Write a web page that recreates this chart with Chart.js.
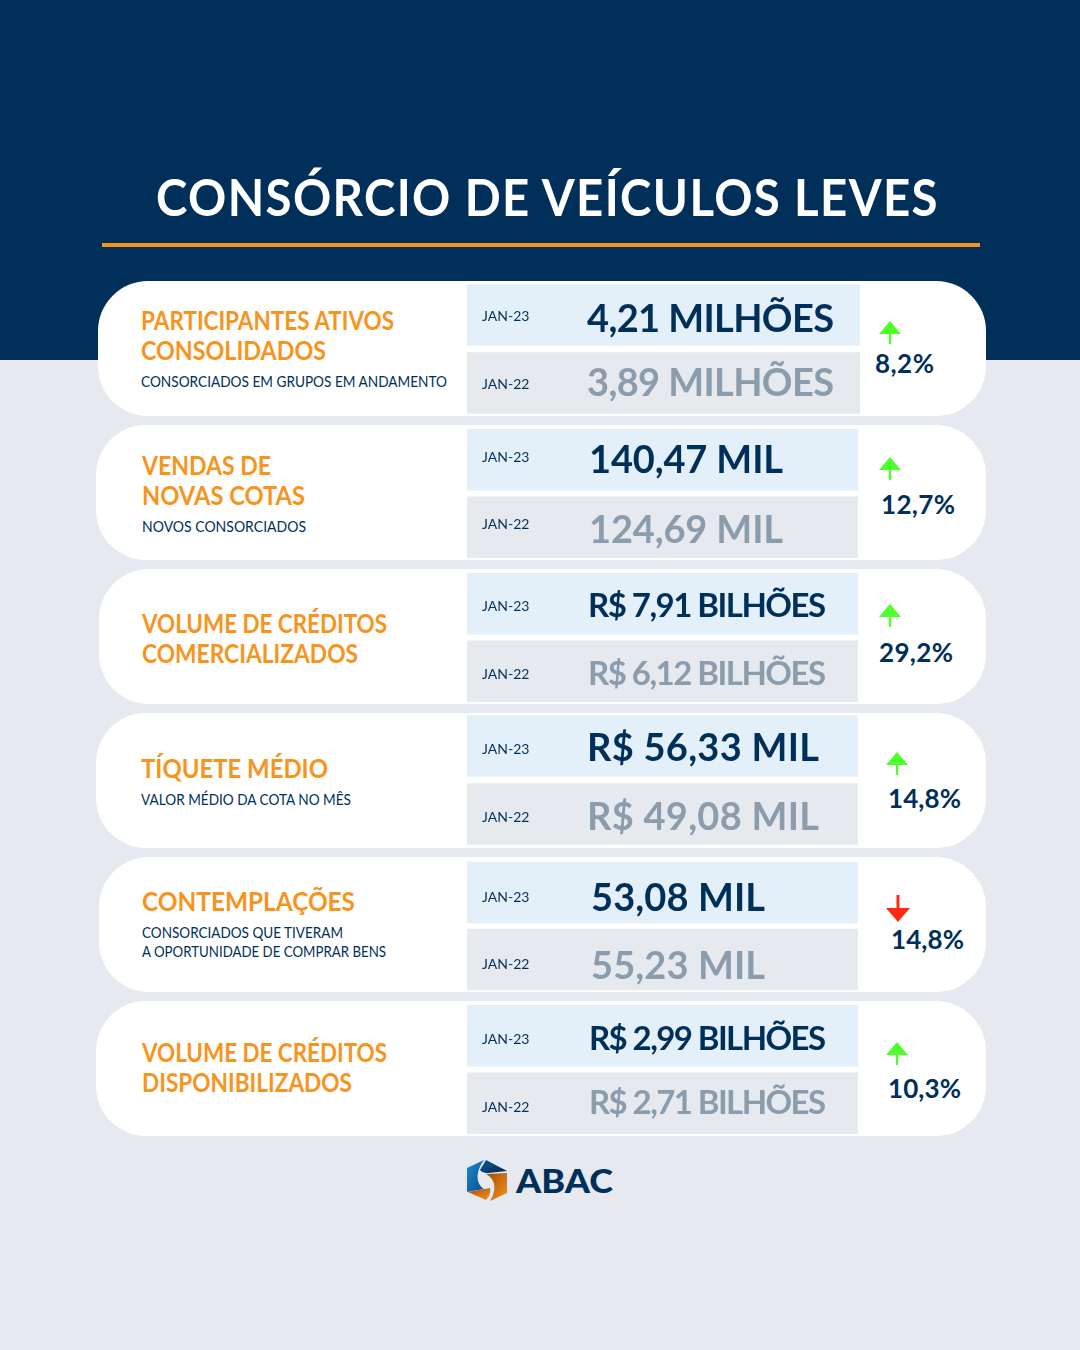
<!DOCTYPE html>
<html lang="pt-BR">
<head>
<meta charset="utf-8">
<title>Consórcio de veículos leves</title>
<script src="https://cdn.jsdelivr.net/npm/chart.js@4"></script>
<style>
html, body { margin: 0; padding: 0; }
body { width: 1080px; height: 1350px; position: relative; overflow: hidden; background: #e6e9ef; font-family: Lato, sans-serif; }
#top { position: absolute; left: 0; top: 0; width: 1080px; height: 360px; background: #00305a; }
#rule { position: absolute; left: 102px; top: 243px; width: 878px; height: 4px; background: #f7941d; }
.card { position: absolute; background: #fff; border-radius: 50px; }
canvas { position: absolute; display: block; }
.txt { position: absolute; white-space: nowrap; line-height: 1; transform-origin: left center; }
svg { position: absolute; left: 0; top: 0; }
</style>
</head>
<body>
<div id="top"></div>
<div id="rule"></div>
<svg id="marks" width="1080" height="1350"></svg>
<script>
// ---------------- DATA ----------------
const chartTitle = "CONSÓRCIO DE VEÍCULOS LEVES";
const periods = ["JAN-23", "JAN-22"];
const currentValues = ["4,21 MILHÕES", "140,47 MIL", "R$ 7,91 BILHÕES", "R$ 56,33 MIL", "53,08 MIL", "R$ 2,99 BILHÕES"];
const previousValues = ["3,89 MILHÕES", "124,69 MIL", "R$ 6,12 BILHÕES", "R$ 49,08 MIL", "55,23 MIL", "R$ 2,71 BILHÕES"];
const changeLabels = ["8,2%", "12,7%", "29,2%", "14,8%", "14,8%", "10,3%"];
const changeDirections = ["up", "up", "up", "up", "down", "up"];
const headings = [
    ["PARTICIPANTES ATIVOS", "CONSOLIDADOS"],
    ["VENDAS DE", "NOVAS COTAS"],
    ["VOLUME DE CRÉDITOS", "COMERCIALIZADOS"],
    ["TÍQUETE MÉDIO"],
    ["CONTEMPLAÇÕES"],
    ["VOLUME DE CRÉDITOS", "DISPONIBILIZADOS"]
];
const subheadings = [
    ["CONSORCIADOS EM GRUPOS EM ANDAMENTO"],
    ["NOVOS CONSORCIADOS"],
    [],
    ["VALOR MÉDIO DA COTA NO MÊS"],
    ["CONSORCIADOS QUE TIVERAM", "A OPORTUNIDADE DE COMPRAR BENS"],
    []
];

// ---------------- LAYOUT ----------------
const NAVY = "#00305a", ORANGE = "#f7941d", GREY = "#8b9cad";
const cardBoxes = [[98, 281, 888, 135], [96, 425, 890, 135], [99, 569, 887, 135], [96, 713, 890, 135], [99, 857, 887, 135], [96, 1001, 890, 135]];
// canvas boxes: taller than the two cells, so the band centres match the row spacing
const cellBoxes = [[467, 281, 393, 136], [467, 426, 391, 135], [467, 570, 391, 135], [467, 712, 391, 136], [467, 859, 391, 134], [467, 1002, 391, 135]];
const periodShift = [1, -2.5, 3, 3.5, 4.5, 4];
// value label: left x, font size, target width, y shift of each row
const valueStyle = [
    [587, 38, 247, [3, -1]], [589, 38, 194, [0, 2]], [588, 33, 238, [1, 2]],
    [587, 38, 232, [1, 2]], [591, 38, 174, [4.5, 5.5]], [589, 33, 237, [2, -1]]
];
// heading lines: x, centre y, width
const headingPos = [
    [[141, 321, 253], [141, 351, 185]], [[142, 466, 129], [142, 496, 163]], [[142, 624, 245], [142, 654, 216]],
    [[141, 769, 187]], [[142, 902, 213]], [[142, 1053, 245], [142, 1083, 210]]
];
const subPos = [
    [[141, 382, 306]], [[142, 527, 164]], [], [[141, 800, 210]], [[142, 933, 201], [142, 952, 244]], []
];
// change label: x, centre y, width; arrow: centre x, top y
const changePos = [[875, 364, 59], [881, 505, 74], [879, 653, 74], [888, 799, 73], [891, 940, 73], [888, 1089, 73]];
const arrowPos = [[890, 321], [890, 457], [890, 604], [897, 752], [898, 895], [897, 1042]];

// adds a text line and fits it to its width in the reference,
// by squeezing the glyphs (Futura is narrower than Lato) or by letter spacing
function addText(text, x, cy, size, width, color, weight, fit, tracking) {
    const el = document.createElement("div");
    el.className = "txt";
    el.textContent = text;
    el.style.cssText = `left:${x}px;top:${cy - size * 0.527}px;font-size:${size}px;color:${color};font-weight:${weight};letter-spacing:${tracking || 0}px`;
    document.body.appendChild(el);
    const natural = el.getBoundingClientRect().width;
    if (fit === "space") {
        el.style.letterSpacing = ((width - natural) / (text.length - 1)).toFixed(3) + "px";
    } else {
        el.style.transform = `scaleX(${(width / natural).toFixed(4)})`;
    }
}

// value text sits on the bars, so it follows the bar elements
const valueLabels = {
    id: "valueLabels",
    afterDatasetsDraw(chart, args, opts) {
        const ctx = chart.ctx;
        chart.getDatasetMeta(0).data.forEach((bar, i) => {
            ctx.save();
            ctx.font = `700 ${opts.size}px Lato`;
            ctx.letterSpacing = "0px";
            const natural = ctx.measureText(opts.texts[i]).width;
            ctx.letterSpacing = ((opts.width - natural) / (opts.texts[i].length - 1)).toFixed(3) + "px";
            ctx.fillStyle = i === 0 ? NAVY : GREY;
            ctx.textAlign = "left";
            ctx.textBaseline = "alphabetic";
            ctx.fillText(opts.texts[i], opts.x, bar.y + opts.shifts[i] + opts.size * 0.36);
            ctx.restore();
        });
    }
};

// ---------------- CARDS ----------------
cardBoxes.forEach(box => {
    const card = document.createElement("div");
    card.className = "card";
    card.style.cssText = `left:${box[0]}px;top:${box[1]}px;width:${box[2]}px;height:${box[3]}px`;
    document.body.appendChild(card);
});
document.body.appendChild(document.getElementById("marks"));

cellBoxes.forEach((box, i) => {
    const canvas = document.createElement("canvas");
    canvas.width = box[2];
    canvas.height = box[3];
    canvas.style.left = box[0] + "px";
    canvas.style.top = box[1] + "px";
    document.body.appendChild(canvas);

    const style = valueStyle[i];
    new Chart(canvas, {
        type: "bar",
        data: {
            labels: periods,
            datasets: [{
                // table cells: both rows span the whole axis, the figure is the label
                data: periods.map(() => 1),
                backgroundColor: ["#e3f0f9", "#e6e9ee"],
                barThickness: 61
            }]
        },
        options: {
            indexAxis: "y",
            responsive: false,
            animation: false,
            layout: { padding: 0, autoPadding: false },
            plugins: {
                legend: { display: false },
                tooltip: { enabled: false },
                valueLabels: {
                    texts: [currentValues[i], previousValues[i]],
                    x: style[0] - box[0],
                    size: style[1],
                    width: style[2],
                    shifts: style[3]
                }
            },
            scales: {
                x: { display: false, min: 0, max: 1 },
                y: {
                    // mirrored ticks still reserve room, the cells have to fill the canvas
                    afterFit(scale) {
                        scale.width = 0;
                        scale.paddingTop = 0;
                        scale.paddingBottom = 0;
                    },
                    grid: { display: false, drawTicks: false },
                    border: { display: false },
                    ticks: {
                        mirror: true,
                        z: 1,
                        padding: 15,
                        labelOffset: periodShift[i],
                        color: NAVY,
                        font: { family: "Lato", size: 14, weight: "400" }
                    }
                }
            }
        },
        plugins: [valueLabels]
    });
});

// ---------------- TEXT ----------------
addText(chartTitle, 156, 197, 52, 783, "#ffffff", 700, "scale", 1.5);
headings.forEach((lines, i) => {
    lines.forEach((line, j) => {
        const p = headingPos[i][j];
        addText(line, p[0], p[1], 26, p[2], ORANGE, 700, "scale");
    });
    subheadings[i].forEach((line, j) => {
        const p = subPos[i][j];
        addText(line, p[0], p[1], 15.5, p[2], NAVY, 400, "scale");
    });
    const c = changePos[i];
    addText(changeLabels[i], c[0], c[1], 26, c[2], NAVY, 700, "space");
});
addText("ABAC", 516, 1182, 32, 97, NAVY, 900, "scale");

// ---------------- ARROWS AND LOGO ----------------
let marks = "";
changeDirections.forEach((dir, i) => {
    const [x, y] = arrowPos[i];
    if (dir === "up") {
        marks += `<path fill="#4dff2b" d="M${x} ${y}L${x + 11} ${y + 13}H${x + 1.2}V${y + 23}H${x - 1.2}V${y + 13}H${x - 11}Z"/>`;
    } else {
        marks += `<path fill="#ff2a14" d="M${x - 1.5} ${y}H${x + 1.5}V${y + 13}H${x + 12}L${x} ${y + 27}L${x - 12} ${y + 13}H${x - 1.5}Z"/>`;
    }
});
marks += `<defs>
<linearGradient id="lb" x1="0" y1="0" x2="1" y2="1"><stop offset="0" stop-color="#1b8ad0"/><stop offset="1" stop-color="#0a4f8c"/></linearGradient>
<linearGradient id="lo" x1="0" y1="0" x2="1" y2="1"><stop offset="0" stop-color="#a34a08"/><stop offset="1" stop-color="#f7941d"/></linearGradient>
<linearGradient id="ln" x1="0" y1="0" x2="1" y2="1"><stop offset="0" stop-color="#0a5c9c"/><stop offset="1" stop-color="#00264a"/></linearGradient>
</defs>
<path fill="url(#lb)" d="M484 1160L467 1168V1192L484 1189C476 1184 475 1172 484 1160Z"/>
<path fill="url(#ln)" d="M486 1160L507 1171L488 1173C483 1173 481 1171 480 1170Z"/>
<path fill="url(#lo)" d="M507 1173V1193L490 1201C496 1192 497 1180 486 1174Z"/>
<path fill="url(#lo)" d="M468 1192L490 1188C491 1192 489 1197 486 1200Z"/>`;
document.getElementById("marks").innerHTML = marks;
</script>
</body>
</html>
